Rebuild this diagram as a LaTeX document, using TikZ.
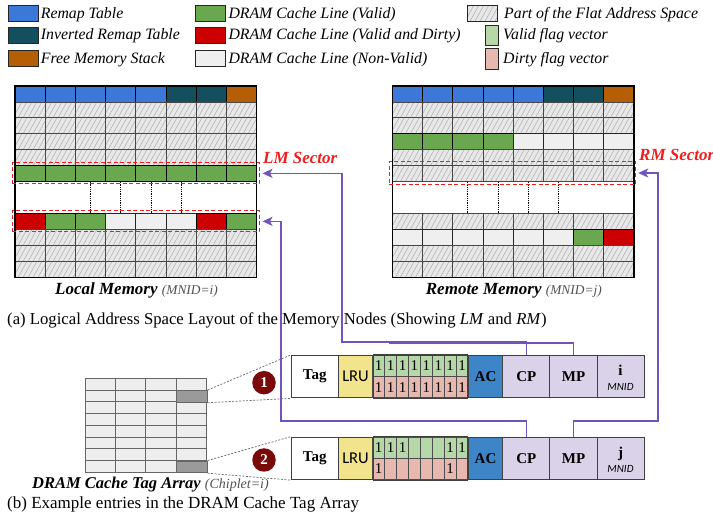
\documentclass[tikz,border=0pt]{standalone}
\usepackage{fontspec}
\setmainfont{Liberation Serif}
\newfontfamily\calib{Carlito}
\usetikzlibrary{arrows.meta}

\definecolor{remapblue}{HTML}{3C78D8}
\definecolor{invteal}{HTML}{134F5C}
\definecolor{freeorange}{HTML}{B45F06}
\definecolor{validgreen}{HTML}{6AA84F}
\definecolor{dirtyred}{HTML}{CC0000}
\definecolor{nonvalid}{HTML}{EFEFEF}
\definecolor{hatchbg}{HTML}{E8E8E8}
\definecolor{hatchln}{HTML}{A8A8A8}
\definecolor{validflag}{HTML}{B6D7A8}
\definecolor{dirtyflag}{HTML}{E6B8AF}
\definecolor{lruyellow}{HTML}{F1E48C}
\definecolor{acblue}{HTML}{3D85C6}
\definecolor{lav}{HTML}{D9D2E9}
\definecolor{circred}{HTML}{7A0A0A}
\definecolor{connpurple}{HTML}{6F54BE}
\definecolor{secred}{HTML}{F01E1E}
\definecolor{tagcell}{HTML}{EEEEEE}
\definecolor{taghi}{HTML}{9A9A9A}
\definecolor{captgray}{HTML}{505050}

\newcommand\legfont{\fontsize{15.8}{18}\selectfont\itshape}
\newcommand\entb{\fontsize{15}{17}\selectfont\bfseries}
\newcommand\cw{30.22}
\newcommand\rh{15.96}
\newcommand\tagcw{30.42}
\newcommand\tagrh{11.75}

% hatched area: x, y, w, h, last line offset
\newcommand\hatchfill[5]{\begin{scope}
  \clip ({#1},{#2}) rectangle ++({#3},{#4});
  \fill[hatchbg] ({#1},{#2}) rectangle ++({#3},{#4});
  \foreach \hx in {-12,-7,...,#5}{\draw[hatchln,line width=0.45pt] ({#1+\hx},{#2+#4}) -- ++({#4*0.55},{-#4});}
  \end{scope}}

\newcommand\memrow[3]{\foreach \ms [count=\mc from 0] in {#3}{\path[\ms] ({#1+\mc*\cw},{86+#2*\rh}) rectangle ++(\cw,\rh);}}
\newcommand\hatchrow[2]{\hatchfill{#1}{86+#2*\rh}{8*\cw}{\rh}{250}%
  \memrow{#1}{#2}{cellhatch,cellhatch,cellhatch,cellhatch,cellhatch,cellhatch,cellhatch,cellhatch}}
\newcommand\memgap[1]{\foreach \mk in {2.5,3.5,4.5,5.5}{\draw[black,densely dotted,line width=0.8pt] ({#1+\mk*\cw},{86+6*\rh}) -- ++(0,{2*\rh});}
  \draw[black,line width=1.3pt] (#1,86) rectangle ++({8*\cw},{12*\rh});}

\newcommand\tagentry[5]{%
  \node[ecell,fill=white,minimum width=47pt] (#1tag) at (290.7,#2) {\entb Tag};
  \node[ecell,fill=lruyellow,minimum width=34.6pt] (#1lru) at (337.7,#2) {\calib\fontsize{16.5}{18}\selectfont LRU};
  \foreach \fd [count=\fk from 0] in {#4}{\node[fcell,fill=validflag] (#1v\fk) at ({372.3+\fk*11.925},#2) {\fd};}
  \foreach \fd [count=\fk from 0] in {#5}{\node[fcell,fill=dirtyflag] (#1d\fk) at ({372.3+\fk*11.925},{#2+21.15}) {\fd};}
  \node[ecell,fill=acblue,minimum width=34.6pt] (#1ac) at (467.7,#2) {\entb AC};
  \node[ecell,fill=lav,minimum width=47pt] (#1cp) at (502.3,#2) {\entb CP};
  \node[ecell,fill=lav,minimum width=47.4pt] (#1mp) at (549.3,#2) {\entb MP};
  \node[ecell,fill=lav,minimum width=47.6pt] (#1mn) at (596.7,#2) {};
  \node[anchor=base,inner sep=0pt] (#1mnl) at (620.5,{#2+21}) {\entb #3};
  \node[anchor=base,inner sep=0pt] (#1mnt) at (620.5,{#2+35.7}) {\calib\itshape\fontsize{11}{12}\selectfont MNID};
  \draw[black!75,line width=1.1pt] (#1lru.north east) rectangle (#1ac.south west);
}

\begin{document}
\begin{tikzpicture}[x=1pt,y=-1pt,
  swatch/.style={anchor=west,minimum width=30pt,minimum height=16pt,draw=black!85,line width=0.9pt,inner sep=0pt},
  legtxt/.style={anchor=base west,inner sep=0pt,font=\legfont},
  cellblue/.style={fill=remapblue,draw=black,line width=0.9pt},
  cellteal/.style={fill=invteal,draw=black,line width=0.9pt},
  cellorange/.style={fill=freeorange,draw=black,line width=0.9pt},
  cellgreen/.style={fill=validgreen,draw=black,line width=0.9pt},
  cellred/.style={fill=dirtyred,draw=black,line width=0.9pt},
  cellnv/.style={fill=nonvalid,draw=black!85,line width=0.9pt},
  cellhatch/.style={draw=black!72,line width=0.9pt},
  sector/.style={draw=secred,dash pattern=on 4pt off 2.5pt,line width=1pt,inner sep=0pt},
  sectxt/.style={anchor=base west,inner sep=0pt,text=secred,font=\fontsize{17}{20}\selectfont\bfseries\itshape},
  ecell/.style={draw=black!75,line width=1.1pt,inner sep=0pt,anchor=north west,minimum height=42.3pt},
  fcell/.style={draw=black!70,line width=0.8pt,inner sep=0pt,anchor=north west,minimum width=11.925pt,minimum height=21.15pt,font=\fontsize{15}{17}\selectfont},
  tagcellst/.style={fill=tagcell,draw=black!60,line width=0.9pt},
  taghl/.style={fill=taghi,draw=black!60,line width=0.9pt,anchor=north west,inner sep=0pt,minimum width=30.42pt,minimum height=11.75pt},
  guide/.style={draw=black!60,dash pattern=on 2pt off 1.5pt,line width=0.7pt},
  numcirc/.style={circle,fill=circred,minimum size=23.5pt,inner sep=0pt,text=white,font=\fontsize{15}{17}\selectfont\bfseries},
  conn/.style={draw=connpurple,line width=1.6pt},
  arr/.style={-{Stealth[length=10pt,width=9pt,inset=2.5pt]}},
  lab/.style={anchor=base west,inner sep=0pt}]
\useasboundingbox (0,0) rectangle (713,521);

% ---------- legend ----------
\node[swatch,fill=remapblue] (sw1) at (8,13.3) {};
\node[swatch,fill=invteal] (sw2) at (8,35.8) {};
\node[swatch,fill=freeorange] (sw3) at (8,58.8) {};
\node[legtxt] (lt1) at (40.7,18.4) {Remap Table};
\node[legtxt] (lt2) at (40.7,40.0) {Inverted Remap Table};
\node[legtxt] (lt3) at (40.7,63.3) {Free Memory Stack};
\node[swatch,fill=validgreen] (sw4) at (195,13.3) {};
\node[swatch,fill=dirtyred] (sw5) at (195,35.8) {};
\node[swatch,fill=nonvalid] (sw6) at (195,58.8) {};
\node[legtxt] (lt4) at (228.3,18.4) {DRAM Cache Line (Valid)};
\node[legtxt] (lt5) at (228.3,40.0) {DRAM Cache Line (Valid and Dirty)};
\node[legtxt] (lt6) at (228.3,63.3) {DRAM Cache Line (Non-Valid)};
\hatchfill{467}{5.3}{30}{16}{35}
\node[swatch] (sw7) at (467,13.3) {};
\node[swatch,fill=validflag,anchor=north west,minimum width=13pt,minimum height=20pt] (sw8) at (485,25) {};
\node[swatch,fill=dirtyflag,anchor=north west,minimum width=13pt,minimum height=21pt] (sw9) at (485,48) {};
\node[legtxt] (lt7) at (504,18.4) {Part of the Flat Address Space};
\node[legtxt] (lt8) at (503,40.0) {Valid flag vector};
\node[legtxt] (lt9) at (503,63.3) {Dirty flag vector};

% ---------- local memory ----------
\memrow{15}{0}{cellblue,cellblue,cellblue,cellblue,cellblue,cellteal,cellteal,cellorange}
\hatchrow{15}{1}\hatchrow{15}{2}\hatchrow{15}{3}\hatchrow{15}{4}
\memrow{15}{5}{cellgreen,cellgreen,cellgreen,cellgreen,cellgreen,cellgreen,cellgreen,cellgreen}
\memrow{15}{8}{cellred,cellgreen,cellgreen,cellnv,cellnv,cellnv,cellred,cellgreen}
\hatchrow{15}{9}\hatchrow{15}{10}\hatchrow{15}{11}
\memgap{15}

% ---------- remote memory ----------
\memrow{392.3}{0}{cellblue,cellblue,cellblue,cellblue,cellblue,cellteal,cellteal,cellorange}
\hatchrow{392.3}{1}\hatchrow{392.3}{2}
\memrow{392.3}{3}{cellgreen,cellgreen,cellgreen,cellgreen,cellnv,cellnv,cellnv,cellnv}
\hatchrow{392.3}{4}\hatchrow{392.3}{5}
\hatchrow{392.3}{8}
\memrow{392.3}{9}{cellnv,cellnv,cellnv,cellnv,cellnv,cellnv,cellgreen,cellred}
\hatchrow{392.3}{10}\hatchrow{392.3}{11}
\memgap{392.3}

% sectors
\node[sector,minimum width=247pt,minimum height=21.3pt] (lm1) at (135.5,173.35) {};
\node[sector,minimum width=247pt,minimum height=21.3pt] (lm2) at (135.5,221.35) {};
\node[sector,minimum width=246.7pt,minimum height=22.6pt] (rm) at (512.35,173) {};
\node[sectxt] (lmt) at (263,163.3) {LM Sector};
\node[sectxt] (rmt) at (639,161) {RM Sector};

% labels
\node[lab] (lml) at (55,294.5) {\fontsize{17}{20}\selectfont\bfseries\itshape Local Memory {\fontsize{13.4}{16}\selectfont\mdseries\color{captgray}(MNID=i)}};
\node[lab] (rml) at (425.7,294.5) {\fontsize{17}{20}\selectfont\bfseries\itshape Remote Memory {\fontsize{13.4}{16}\selectfont\mdseries\color{captgray}(MNID=j)}};
\node[lab,font=\fontsize{16.7}{20}\selectfont] (capa) at (7,325) {(a) Logical Address Space Layout of the Memory Nodes (Showing \textit{LM} and \textit{RM})};

% ---------- tag array ----------
\foreach \r in {0,...,7}{\foreach \k in {0,...,3}{\path[tagcellst] ({85+\k*\tagcw},{378.3+\r*\tagrh}) rectangle ++(\tagcw,\tagrh);}}
\node[taghl] (h1) at ({85+3*\tagcw},{378.3+1*\tagrh}) {};
\node[taghl] (h2) at ({85+3*\tagcw},{378.3+7*\tagrh}) {};
\node[lab] (tal) at (32,488.3) {\fontsize{16.5}{19}\selectfont\bfseries\itshape DRAM Cache Tag Array {\fontsize{14}{16}\selectfont\mdseries\color{captgray}(Chiplet=i)}};
\node[lab,font=\fontsize{17}{20}\selectfont] (capb) at (7,508.3) {(b) Example entries in the DRAM Cache Tag Array};

% ---------- entries ----------
\tagentry{ea}{355}{i}{1,1,1,1,1,1,1,1}{1,1,1,1,1,1,1,1}
\tagentry{eb}{436.7}{j}{1,1,1,{},{},{},1,1}{1,{},{},{},{},{},1,{}}

\draw[guide] (h1.north east) -- (eatag.north west);
\draw[guide] (h1.south east) -- (eatag.south west);
\draw[guide] (h2.north east) -- (ebtag.north west);
\draw[guide] (h2.south east) -- (ebtag.south west);
\node[numcirc] (n1) at (264,382.7) {1};
\node[numcirc] (n2) at (264,460) {2};

% ---------- connectors ----------
\draw[conn,arr,shorten >=3pt] (eacp.north) |- (342,342) |- (lm1.east);
\draw[conn] (eamp.north) |- (389,343);
\draw[conn,arr,shorten >=3pt] (ebcp.north) |- (281,421) |- (lm2.east);
\draw[conn,arr,shorten >=2pt] (ebmp.north) |- (658,421) |- (rm.east);
\end{tikzpicture}
\end{document}
